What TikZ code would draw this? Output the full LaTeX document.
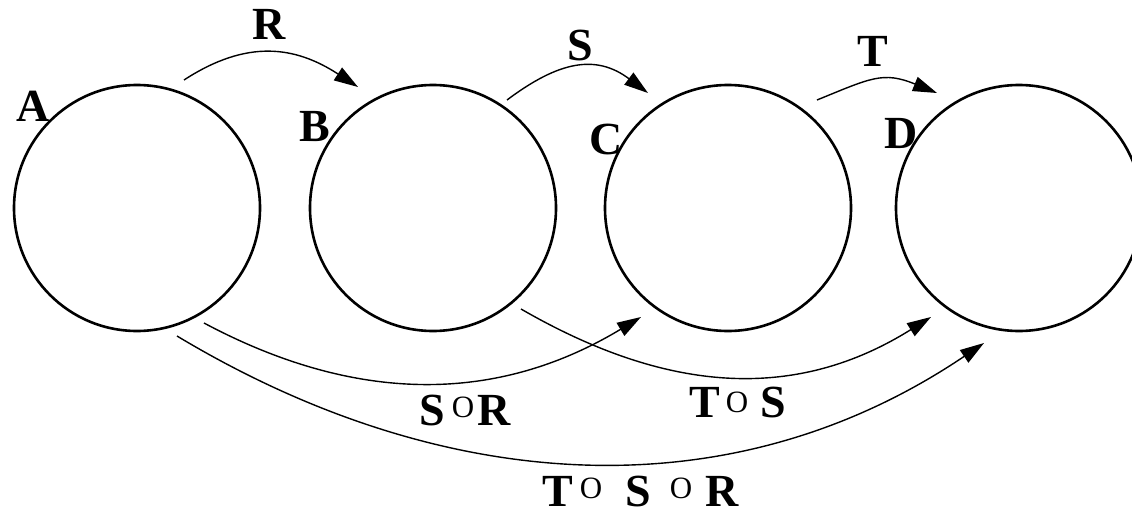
\documentclass[tikz,border=0pt]{standalone}
\usepackage{fontspec}
\setmainfont{Liberation Serif}
\usetikzlibrary{arrows.meta}
\newcommand\cmpo[1][8pt]{\raisebox{#1}{\fontsize{31}{31}\selectfont\mdseries O}}
\tikzset{
  state/.style={circle, draw, line width=2.6pt, minimum size=246pt, inner sep=0pt},
  lbl/.style={inner sep=0pt, anchor=base west, font=\fontsize{46}{50}\selectfont\bfseries},
  arr/.style={line width=1.4pt, -{Triangle[length=24pt,width=15pt]}}
}
\begin{document}
\begin{tikzpicture}[x=1pt,y=-1pt]
\useasboundingbox (0,0) rectangle (1132,516);
\node[state] (A) at (137,208) {};
\node[state] (B) at (433,208) {};
\node[state] (C) at (728,208) {};
\node[state] (D) at (1019,208) {};
\node[lbl] (la) at (16,122) {A};
\node[lbl] (lb) at (299,142) {B};
\node[lbl] (lc) at (589,154) {C};
\node[lbl] (ld) at (884,148) {D};
% free ends of connectors
\coordinate (rs) at (184,80);   \coordinate (re) at (358,87);
\coordinate (ss) at (507,100);  \coordinate (se) at (648,93);
\coordinate (ts) at (817,100);  \coordinate (te) at (937,93);
\coordinate (srs) at (204,323); \coordinate (sre) at (641,317);
\coordinate (tss) at (521,309); \coordinate (tse) at (931,317);
\coordinate (tsrs) at (177,336); \coordinate (tsre) at (984,343);
\draw[arr] (rs) .. controls (247,39) and (295,46) .. (re);
\draw[arr] (ss) .. controls (559,61) and (596,54) .. (se);
\draw[arr] (ts) .. controls (871,78) and (883,71) .. (te);
\draw[arr] (srs) .. controls (354,403) and (495,405) .. (sre);
\draw[arr] (tss) .. controls (663,391) and (792,404) .. (tse);
\draw[arr] (tsrs) .. controls (440,494) and (729,515) .. (tsre);
\node[lbl] (lr) at (252,40) {R};
\node[lbl] (ls) at (567,61) {S};
\node[lbl] (lt) at (857,67) {T};
\node[lbl] (lsr) at (419,425) {S\hspace{7pt}\cmpo\hspace{3pt}R};
\node[lbl] (lts) at (689,417) {T\hspace{6pt}\cmpo[5pt]\hspace{12pt}S};
\node[lbl] (ltsr) at (542,506) {T\hspace{7pt}\cmpo\hspace{23pt}S\hspace{19pt}\cmpo\hspace{13pt}R};
\end{tikzpicture}
\end{document}
